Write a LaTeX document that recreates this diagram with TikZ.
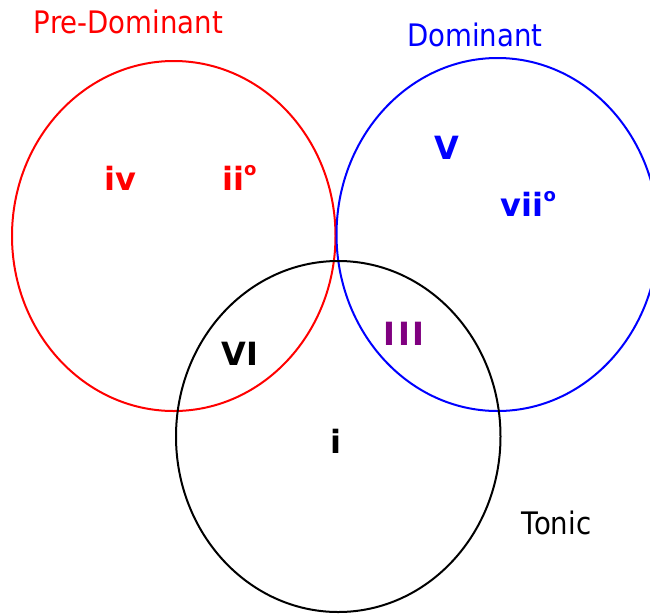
\documentclass[tikz,border=0pt]{standalone}
\usepackage{fontspec}
\setmainfont{DejaVu Sans}
\newfontfamily\titlefont[FakeStretch=0.89]{DejaVu Sans}
\definecolor{pdred}{RGB}{255,0,0}
\definecolor{dblue}{RGB}{0,0,255}
\definecolor{mpurple}{RGB}{128,0,128}
\newcommand{\dimo}{\raisebox{15pt}{\fontsize{18}{18}\selectfont\bfseries o}}
\tikzset{
  ring/.style={line width=2pt},
  titletext/.style={anchor=base, inner sep=0pt, font=\titlefont\fontsize{31}{32}\selectfont},
  chord/.style={anchor=base, inner sep=0pt, font=\fontsize{32}{33}\selectfont\bfseries},
}
\begin{document}
\begin{tikzpicture}[x=1pt,y=-1pt]
\clip (0,0) rectangle (650,614);
\fill[white] (0,0) rectangle (650,614);
% circles
\draw[ring, pdred] (173.75,236) ellipse [x radius=161.75pt, y radius=175pt];
\draw[ring, dblue] (497.5,234.5) ellipse [x radius=161pt, y radius=176.5pt];
\draw[ring, black] (338.25,436.5) ellipse [x radius=162.25pt, y radius=175.5pt];
% titles
\node[titletext, text=pdred] (tpd) at (128.5,33.3) {Pre-Dominant};
\node[titletext, text=dblue] (tdom) at (474.8,46.7) {Dominant};
\node[titletext, text=black] (tton) at (556.5,534) {Tonic};
% chords
\node[chord, text=pdred] (civ) at (120,190.7) {iv};
\node[chord, text=pdred, anchor=base west] (cii) at (222,190.7) {ii\dimo};
\node[chord, text=dblue] (cV) at (446.7,159.3) {V};
\node[chord, text=dblue, anchor=base west] (cvii) at (500.5,216.7) {vii\dimo};
\node[chord, text=black] (cVI) at (239.7,365) {VI};
\node[chord, text=mpurple] (cIII) at (404,345) {I\kern3ptI\kern3ptI};
\node[chord, text=black] (ci) at (336,453) {i};
\end{tikzpicture}
\end{document}
